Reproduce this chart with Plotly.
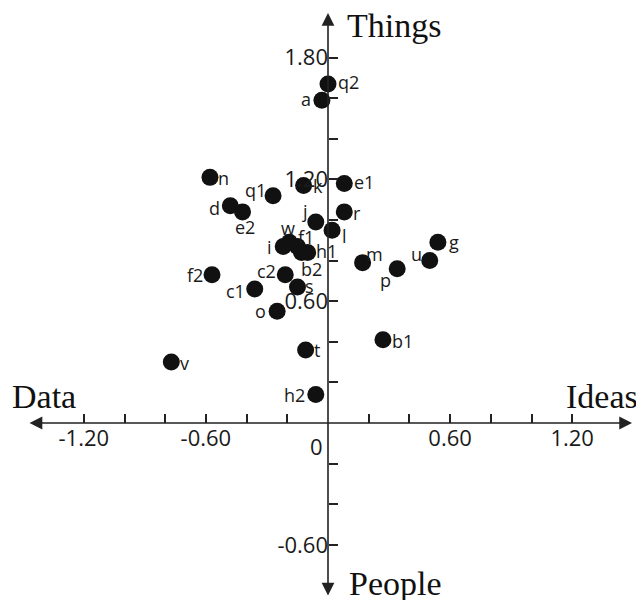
import plotly.graph_objects as go

labels = ["q2", "a", "n", "q1", "k", "e1", "d", "e2", "j", "r", "l", "w", "f1", "i",
          "h1", "b2", "m", "p", "u", "g", "f2", "c2", "c1", "s", "o", "b1", "t", "v", "h2"]
x_vals = [0.00, -0.03, -0.58, -0.27, -0.12, 0.08, -0.48, -0.42, -0.06, 0.08, 0.02, -0.19, -0.15, -0.22,
          -0.10, -0.13, 0.17, 0.34, 0.50, 0.54, -0.57, -0.21, -0.36, -0.15, -0.25, 0.27, -0.11, -0.77, -0.06]
y_vals = [1.67, 1.59, 1.21, 1.12, 1.17, 1.18, 1.07, 1.04, 0.99, 1.04, 0.95, 0.89, 0.87, 0.87,
          0.84, 0.84, 0.79, 0.76, 0.80, 0.89, 0.73, 0.73, 0.66, 0.67, 0.55, 0.41, 0.36, 0.30, 0.14]
# label offsets from marker centre, in screen pixels (right, down)
label_dx = [20, -16, 14, -18, 14, 20, -16, 2, -11, 13, 12, -1, 9, -14,
            19, 10, 12, -12, -13, 16, -17, -19, -19, 12, -17, 20, 11, 13, -21]
label_dy = [-2, -1, 1, -6, 1, -1, 2, 15, -11, 1, 6, -14, -9, 1,
            -1, 17, -9, 11, -7, 0, 0, -4, 2, -1, 0, 1, 0, 1, 0]

x_ticks = [-1.2, -1.0, -0.8, -0.6, -0.4, -0.2, 0.2, 0.4, 0.6, 0.8, 1.0, 1.2]
x_ticktext = ["-1.20", "", "", "-0.60", "", "", "", "", "0.60", "", "", "1.20"]
y_ticks = [-0.6, -0.4, -0.2, 0.2, 0.4, 0.6, 0.8, 1.0, 1.2, 1.4, 1.6, 1.8]
y_ticktext = ["-0.60", "", "", "", "", "0.60", "", "", "1.20", "", "", "1.80"]

W, H = 644, 600
PAGE_OFFSET = 8  # default page body margin
ORIGIN_PX = (328 - PAGE_OFFSET, 423 - PAGE_OFFSET)
SX, SY = 203.5, 203.0
x_range = [-ORIGIN_PX[0] / SX, (W - ORIGIN_PX[0]) / SX]
y_range = [(ORIGIN_PX[1] - H) / SY, ORIGIN_PX[1] / SY]

x_axis_ends = [-1.474, 1.494]
y_axis_ends = [-0.857, 2.02]

fig = go.Figure()
fig.add_trace(go.Scatter(
    x=x_vals, y=y_vals, mode="markers",
    marker=dict(size=17, color="#111111"),
    cliponaxis=False, hoverinfo="skip",
))

label_font = dict(family="Open Sans", size=18, color="#1a1a1a")
for lab, xv, yv, dx, dy in zip(labels, x_vals, y_vals, label_dx, label_dy):
    fig.add_annotation(x=xv, y=yv, xref="x", yref="y", text=lab, showarrow=False,
                       xanchor="center", yanchor="middle", xshift=dx, yshift=-dy,
                       font=label_font)

tick_font = dict(family="Open Sans", size=22, color="#1a1a1a")
fig.update_layout(
    width=W, height=H, margin=dict(l=0, r=0, t=0, b=0),
    paper_bgcolor="white", plot_bgcolor="white", showlegend=False,
    xaxis=dict(range=x_range, anchor="free", position=(H - ORIGIN_PX[1]) / H,
               tickmode="array", tickvals=x_ticks, ticktext=x_ticktext,
               ticks="inside", ticklen=9, tickwidth=1.5, tickcolor="#222222",
               showline=False, showgrid=False, zeroline=False, tickfont=tick_font,
               automargin=False, fixedrange=True),
    yaxis=dict(range=y_range, anchor="free", position=ORIGIN_PX[0] / W,
               tickmode="array", tickvals=y_ticks, ticktext=y_ticktext,
               ticks="inside", ticklen=9, tickwidth=1.5, tickcolor="#222222",
               showline=False, showgrid=False, zeroline=False, tickfont=tick_font,
               automargin=False, fixedrange=True),
)

# axis lines with arrows at both ends
fig.add_annotation(x=x_axis_ends[1], y=0, ax=x_axis_ends[0], ay=0, xref="x", yref="y",
                   axref="x", ayref="y", text="", showarrow=True, arrowhead=2,
                   arrowside="end+start", arrowsize=1.6, arrowwidth=1.6, arrowcolor="#222222",
                   standoff=0, startstandoff=0)
fig.add_annotation(x=0, y=y_axis_ends[1], ax=0, ay=y_axis_ends[0], xref="x", yref="y",
                   axref="x", ayref="y", text="", showarrow=True, arrowhead=2,
                   arrowside="end+start", arrowsize=1.6, arrowwidth=1.6, arrowcolor="#222222",
                   standoff=0, startstandoff=0)

fig.add_annotation(x=0, y=0, xref="x", yref="y", text="0", showarrow=False,
                   xanchor="right", yanchor="top", xshift=-3, yshift=-6, font=tick_font)

serif = dict(family="Liberation Serif", size=34, color="#111111")
fig.add_annotation(x=0.084, y=1.956, xref="x", yref="y", text="Things", showarrow=False,
                   xanchor="left", yanchor="middle", font=serif)
fig.add_annotation(x=0.093, y=-0.793, xref="x", yref="y", text="People", showarrow=False,
                   xanchor="left", yanchor="middle", font=serif)
fig.add_annotation(x=-1.563, y=0.133, xref="x", yref="y", text="Data", showarrow=False,
                   xanchor="left", yanchor="middle", font=serif)
fig.add_annotation(x=1.533, y=0.133, xref="x", yref="y", text="Ideas", showarrow=False,
                   xanchor="right", yanchor="middle", font=serif)

fig.write_html("out.html")
